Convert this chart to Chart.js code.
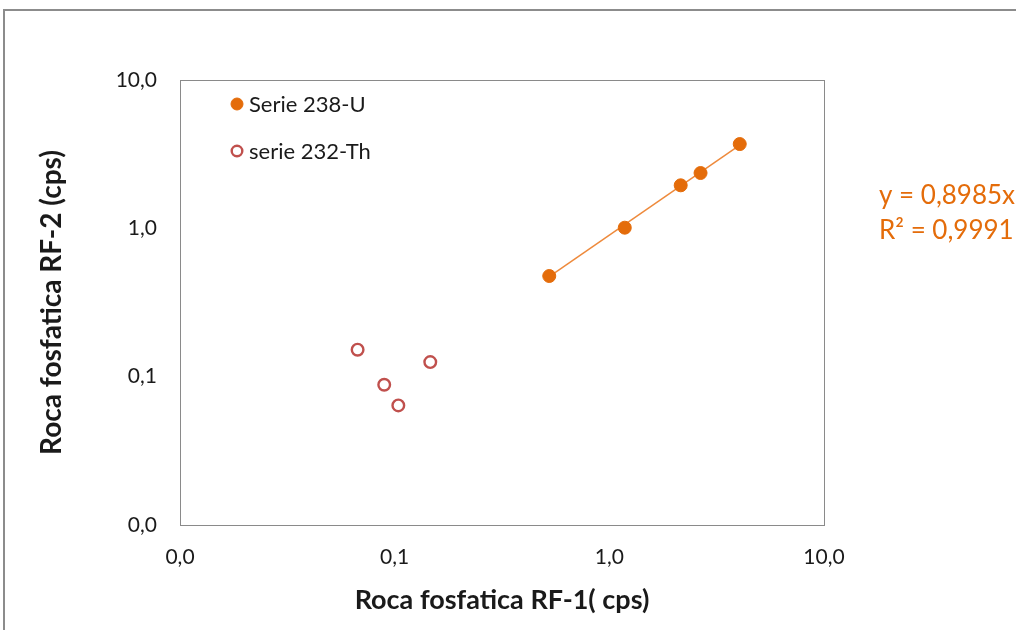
<!DOCTYPE html>
<html>
<head>
<meta charset="utf-8">
<script src="https://cdn.jsdelivr.net/npm/chart.js@4.4.1/dist/chart.umd.min.js"></script>
<style>
  html, body { margin: 0; padding: 0; background: #fff; }
  #wrap { width: 1016px; height: 630px; }
</style>
</head>
<body>
<div id="wrap"><canvas id="myChart" width="1016" height="630"></canvas></div>
<script>
// series 238-U (RF-1 vs RF-2, cps)
const uX = [0.525, 1.18, 2.15, 2.66, 4.05];
const uY = [0.477, 1.01, 1.95, 2.36, 3.70];

// series 232-Th
const thX = [0.0672, 0.0894, 0.104, 0.1465];
const thY = [0.152, 0.0882, 0.064, 0.1254];

// log axis ticks and their printed labels
const tickValues = [0.01, 0.1, 1, 10];
const xTickLabels = ['0,0', '0,1', '1,0', '10,0'];
const yTickLabels = ['0,0', '0,1', '1,0', '10,0'];

// trendline of series 238-U
const trendSlope = 0.8985;
const trendText = ['y = 0,8985x', 'R² = 0,9991'];

const orange = '#E46C0A';
const red = '#C0504D';
const fontFamily = "Lato, 'Open Sans', sans-serif";

const xMin = Math.min(...uX), xMax = Math.max(...uX);
const trendData = [xMin, xMax].map(x => ({ x: x, y: trendSlope * x }));

const toPoints = (xs, ys) => xs.map((x, i) => ({ x: x, y: ys[i] }));

// outer frame, plot box, legend and equation
const decorPlugin = {
  id: 'decor',
  beforeDraw(chart) {
    const c = chart.ctx;
    c.save();
    c.strokeStyle = '#8c8c8c';
    c.lineWidth = 2;
    c.beginPath();
    c.moveTo(4, 640);
    c.lineTo(4, 10);
    c.lineTo(1020, 10);
    c.stroke();
    c.restore();
  },
  afterDatasetsDraw(chart) {
    const c = chart.ctx;
    const a = chart.chartArea;
    c.save();
    c.strokeStyle = '#8a8a8a';
    c.lineWidth = 1;
    c.strokeRect(a.left + 0.5, a.top + 0.5, a.right - a.left, a.bottom - a.top);

    // legend
    const items = [chart.data.datasets[0], chart.data.datasets[1]];
    c.font = '22px ' + fontFamily;
    c.textBaseline = 'middle';
    items.forEach((ds, i) => {
      const y = a.top + 24 + i * 47;
      const x = a.left + 57;
      c.beginPath();
      c.arc(x, y, ds.pointRadius - 0.5, 0, Math.PI * 2);
      c.fillStyle = ds.pointBackgroundColor;
      c.fill();
      c.lineWidth = ds.pointBorderWidth;
      c.strokeStyle = ds.pointBorderColor;
      c.stroke();
      c.fillStyle = '#1a1a1a';
      c.fillText(ds.label, x + 12, y + 1);
    });

    // trend equation
    c.fillStyle = orange;
    c.font = '26px ' + fontFamily;
    trendText.forEach((t, i) => {
      c.fillText(t, a.right + 55, a.top + 116 + i * 35);
    });
    c.restore();
  }
};

const ctx = document.getElementById('myChart');

new Chart(ctx, {
  type: 'scatter',
  data: {
    datasets: [{
      label: 'Serie 238-U',
      data: toPoints(uX, uY),
      pointRadius: 6.5,
      pointBackgroundColor: orange,
      pointBorderColor: orange,
      pointBorderWidth: 1,
      order: 1
    }, {
      label: 'serie 232-Th',
      data: toPoints(thX, thY),
      pointRadius: 5.8,
      pointBackgroundColor: '#ffffff',
      pointBorderColor: red,
      pointBorderWidth: 2.4,
      order: 1
    }, {
      label: 'trend',
      data: trendData,
      showLine: true,
      pointRadius: 0,
      borderColor: '#EE8A3C',
      borderWidth: 1.5,
      order: 2
    }]
  },
  options: {
    responsive: false,
    animation: false,
    layout: { padding: { left: 0, top: 80, right: 192, bottom: 0 } },
    scales: {
      x: {
        type: 'logarithmic',
        min: 0.01,
        max: 10,
        afterBuildTicks: axis => { axis.ticks = tickValues.map(v => ({ value: v })); },
        afterFit: axis => { axis.height = 105; },
        grid: { display: false, drawTicks: false },
        border: { display: false },
        ticks: {
          padding: 20,
          color: '#1a1a1a',
          font: { family: fontFamily, size: 21 },
          callback: (value, index) => xTickLabels[index]
        },
        title: {
          display: true,
          text: 'Roca fosfatica RF-1( cps)',
          color: '#1a1a1a',
          font: { family: fontFamily, size: 27, weight: 'bold' },
          padding: { top: 0, bottom: 14 }
        }
      },
      y: {
        type: 'logarithmic',
        min: 0.01,
        max: 10,
        afterBuildTicks: axis => { axis.ticks = tickValues.map(v => ({ value: v })); },
        afterFit: axis => { axis.width = 180; },
        grid: { display: false, drawTicks: false },
        border: { display: false },
        ticks: {
          padding: 23,
          color: '#1a1a1a',
          font: { family: fontFamily, size: 21 },
          callback: (value, index) => yTickLabels[index]
        },
        title: {
          display: true,
          text: 'Roca fosfatica RF-2 (cps)',
          color: '#1a1a1a',
          font: { family: fontFamily, size: 28, weight: 'bold' },
          padding: { top: 35, bottom: 0 }
        }
      }
    },
    plugins: {
      legend: { display: false },
      tooltip: { enabled: false }
    }
  },
  plugins: [decorPlugin]
});
</script>
</body>
</html>
